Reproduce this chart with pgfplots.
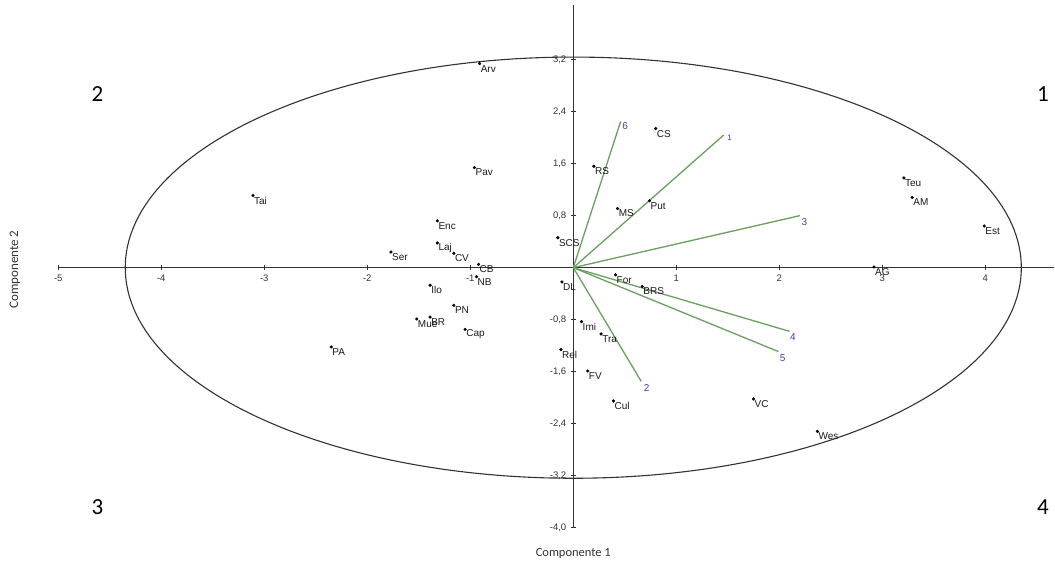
\documentclass[border=0pt]{standalone}
\usepackage{pgfplots}
\usepackage{pgfplotstable}
\pgfplotsset{compat=1.18}
\usepackage{fontspec}
\setmainfont{Liberation Sans}
\newfontfamily\calfont{Carlito}
\definecolor{vecgreen}{RGB}{105,160,95}
\definecolor{vecblue}{RGB}{70,60,170}
\definecolor{axgray}{RGB}{50,50,50}
\pgfplotstableread{
x y label
-0.91 3.14 Arv
-0.96 1.54 Pav
-3.11 1.11 Tai
-1.32 0.72 Enc
0.80 2.14 CS
0.20 1.56 RS
0.43 0.91 MS
0.74 1.03 Put
3.21 1.38 Teu
3.29 1.08 AM
3.99 0.64 Est
2.92 0.01 AG
-2.35 -1.22 PA
-1.77 0.24 Ser
-1.32 0.38 Laj
-1.16 0.22 CV
-0.92 0.05 CB
-0.94 -0.14 NB
-1.39 -0.27 Ilo
-1.16 -0.58 PN
-1.52 -0.79 Mue
-1.39 -0.76 BR
-1.05 -0.95 Cap
-0.15 0.46 SCS
-0.11 -0.22 DL
0.08 -0.83 Imi
0.27 -1.02 Tra
-0.12 -1.26 Rel
0.14 -1.59 FV
0.39 -2.05 Cul
0.41 -0.11 For
0.67 -0.29 BRS
1.75 -2.02 VC
2.37 -2.52 Wes
}\points
\begin{document}
\begin{tikzpicture}
\begin{axis}[
  x=103pt, y=65pt,
  axis lines=middle,
  xmin=-5, xmax=4.67, ymin=-4.0, ymax=4.04,
  axis line style={axgray, line width=1.4pt, -},
  xtick={-5,-4,-3,-2,-1,1,2,3,4},
  xticklabels={-5,-4,-3,-2,-1,1,2,3,4},
  ytick={-4,-3.2,-2.4,-1.6,-0.8,0.8,1.6,2.4,3.2},
  yticklabels={{-4,0},{-3,2},{-2,4},{-1,6},{-0,8},{0,8},{1,6},{2,4},{3,2}},
  tick style={axgray, line width=0.8pt},
  major tick length=5pt,
  ticklabel style={font=\fontsize{9.5}{10}\selectfont, text=axgray},
  xticklabel style={yshift=-1pt},
  yticklabel style={xshift=-1pt},
  clip=false,
]
\draw[axgray, line width=1.1pt] (axis cs:0,0) ellipse [x radius=4.35, y radius=3.24];

\addplot[vecgreen, line width=1.3pt] coordinates {(0,0) (0.46,2.25)} node[pos=1, anchor=west, text=vecblue, font=\fontsize{10}{11}\selectfont, inner sep=1pt, yshift=-5pt] {6};
\addplot[vecgreen, line width=1.3pt] coordinates {(0,0) (1.46,2.04)} node[pos=1, anchor=west, text=vecblue, font=\fontsize{8}{9}\selectfont, inner sep=1pt, xshift=2pt, yshift=-3pt] {1};
\addplot[vecgreen, line width=1.3pt] coordinates {(0,0) (2.20,0.80)} node[pos=1, anchor=west, text=vecblue, font=\fontsize{10}{11}\selectfont, inner sep=1pt, yshift=-6pt] {3};
\addplot[vecgreen, line width=1.3pt] coordinates {(0,0) (2.10,-0.98)} node[pos=1, anchor=north west, text=vecblue, font=\fontsize{10}{11}\selectfont, inner sep=1pt, xshift=-1pt, yshift=-1pt] {4};
\addplot[vecgreen, line width=1.3pt] coordinates {(0,0) (1.99,-1.29)} node[pos=1, anchor=north west, text=vecblue, font=\fontsize{10}{11}\selectfont, inner sep=1pt, xshift=0pt, yshift=-1pt] {5};
\addplot[vecgreen, line width=1.3pt] coordinates {(0,0) (0.66,-1.75)} node[pos=1, anchor=north west, text=vecblue, font=\fontsize{10}{11}\selectfont, inner sep=1pt, xshift=1pt, yshift=-1pt] {2};

\addplot[only marks, mark=*, mark size=1.4pt, black,
  nodes near coords, point meta=explicit symbolic,
  nodes near coords style={anchor=west, font=\fontsize{10}{11}\selectfont, text=black!90, inner sep=0.5pt, xshift=0.5pt, yshift=-5pt}]
  table[x=x, y=y, meta=label] {\points};

\node[font=\calfont\fontsize{23}{24}\selectfont, text=black] at (axis cs:-4.62,2.67) {2};
\node[font=\calfont\fontsize{23}{24}\selectfont, text=black] at (axis cs:4.56,2.67) {1};
\node[font=\calfont\fontsize{23}{24}\selectfont, text=black] at (axis cs:-4.62,-3.68) {3};
\node[font=\calfont\fontsize{23}{24}\selectfont, text=black] at (axis cs:4.56,-3.68) {4};
\node[rotate=90, font=\calfont\fontsize{13}{14}\selectfont, text=axgray] at (axis cs:-5.42,-0.03) {Componente 2};
\node[font=\calfont\fontsize{12.5}{13}\selectfont, text=axgray] at (axis cs:0,-4.39) {Componente 1};
\coordinate (BL) at (axis cs:-5.566,-4.558);
\coordinate (TR) at (axis cs:4.677,4.118);
\end{axis}
\pgfresetboundingbox
\useasboundingbox (BL) rectangle (TR);
\end{tikzpicture}
\end{document}
